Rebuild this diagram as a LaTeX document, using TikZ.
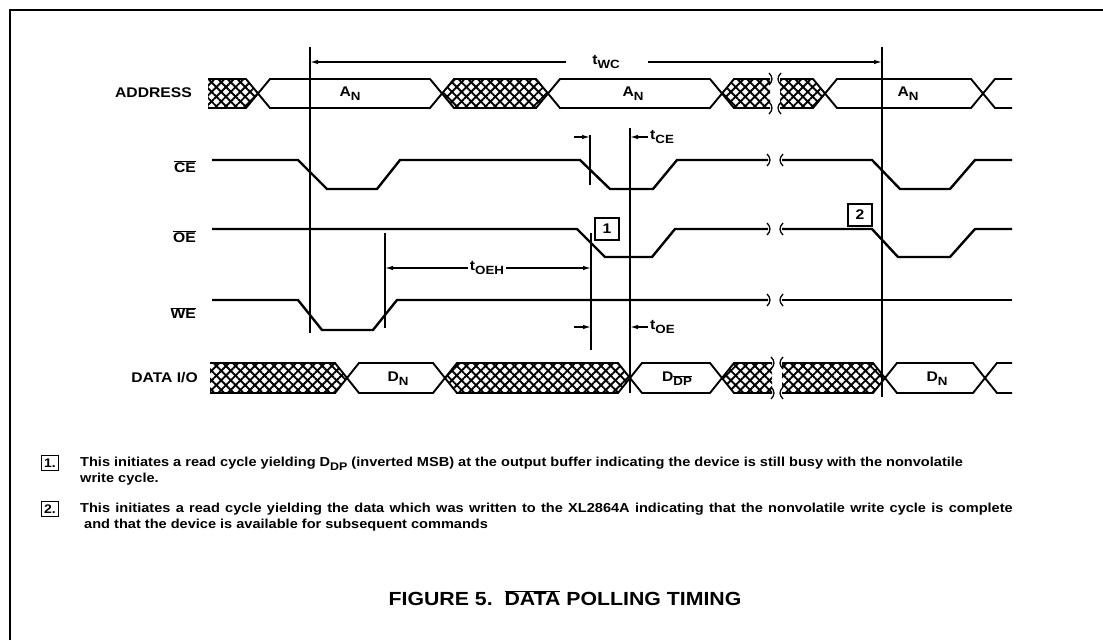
\documentclass[tikz,border=0pt]{standalone}
\usepackage{fontspec}
\setmainfont{Liberation Sans}[FakeStretch=1.12]
\usetikzlibrary{arrows.meta,patterns.meta,positioning,calc}

% lowered subscript and overbar used in the signal names
\newcommand{\lsub}[1]{\raisebox{-0.5ex}{\scalebox{0.85}{#1}}}
\newcommand{\ovl}[1]{$\overline{\mbox{#1}}$}
% break marks on a line, left end x, right end x, height y
\newcommand{\brk}[3]{%
  \draw[line width=1.3pt] ({#1-1},{#3-6}) .. controls ({#1+3},{#3-2}) and ({#1+3},{#3+2}) .. ({#1-1},{#3+6});
  \draw[line width=1.3pt] ({#2+1},{#3-6}) .. controls ({#2-3},{#3-2}) and ({#2-3},{#3+2}) .. ({#2+1},{#3+6});}
% one bus value, from crossing xl to crossing xr
\newcommand{\busseg}[5]{%
  \path[#1] (#2,{(#4+#5)/2}) -- ({#2+12},#4) -- ({#3-12},#4) -- (#3,{(#4+#5)/2}) -- ({#3-12},#5) -- ({#2+12},#5) -- cycle;}

\tikzset{
  sig/.style={line width=2.4pt},
  busline/.style={draw,line width=1.9pt},
  hatch/.style={preaction={pattern={Lines[angle=45,distance=6.8pt,line width=1.9pt]}},
                pattern={Lines[angle=-45,distance=6.8pt,line width=1.9pt]}},
  refline/.style={line width=1.3pt},
  dim/.style={line width=1.3pt,-{Latex[length=8pt,width=4.5pt]}},
  lbl/.style={anchor=east,inner sep=0pt,font=\fontsize{14}{16}\selectfont\bfseries},
  tname/.style={inner sep=2pt,font=\fontsize{14}{16}\selectfont\bfseries},
  numbox/.style={draw,line width=1.4pt,minimum width=24pt,minimum height=22pt,inner sep=0pt,font=\fontsize{14}{16}\selectfont\bfseries},
  notebox/.style={draw,line width=0.9pt,minimum width=17pt,minimum height=15pt,inner sep=1pt,font=\fontsize{12.5}{14}\selectfont\bfseries},
  notetext/.style={anchor=north west,inner sep=0pt,align=left,font=\fontsize{13}{16}\selectfont\bfseries}
}

\begin{document}
\begin{tikzpicture}[x=1pt,y=-1pt]
\useasboundingbox (0,0) rectangle (1103,640);

% frame
\draw[line width=2.5pt] (10,640) -- (10,10) -- (1103,10);

% signal names
\node[lbl] (addr) at (192,93) {ADDRESS};
\node[lbl] (ce) at (196,167) {\ovl{CE}};
\node[lbl] (oe) at (196,237) {\ovl{OE}};
\node[lbl] (we) at (196,313) {\ovl{WE}};
\node[lbl] (dio) at (198,378) {DATA I/O};

% address bus
\path[hatch] (208,79) -- (246,79) -- (258,93.5) -- (246,108) -- (208,108) -- cycle;
\draw[line width=1.9pt] (208,79) -- (246,79) -- (258,93.5) -- (246,108) -- (208,108);
\busseg{busline}{258}{442}{79}{108}
\busseg{busline,hatch}{442}{548}{79}{108}
\busseg{busline}{548}{722}{79}{108}
\path[hatch] (722,93.5) -- (734,79) -- (770,79) -- (770,108) -- (734,108) -- cycle;
\draw[line width=1.9pt] (770,79) -- (734,79) -- (722,93.5) -- (734,108) -- (770,108);
\path[hatch] (780,79) -- (813,79) -- (825,93.5) -- (813,108) -- (780,108) -- cycle;
\draw[line width=1.9pt] (780,79) -- (813,79) -- (825,93.5) -- (813,108) -- (780,108);
\brk{770}{780}{79} \brk{770}{780}{108}
\busseg{busline}{825}{983}{79}{108}
\draw[line width=1.9pt] (1012,79) -- (995,79) -- (983,93.5) -- (995,108) -- (1012,108);
\node[tname] (a1) at (350,94) {A\lsub{N}};
\node[tname] (a2) at (633,94) {A\lsub{N}};
\node[tname] (a3) at (908,94) {A\lsub{N}};

% CE
\draw[sig] (212,160) -- (298,160) -- (327,189) -- (377,189) -- (400,160) -- (580,160)
  -- (610,189) -- (653,189) -- (677,160) -- (768,160);
\draw[sig] (782,160) -- (872,160) -- (900,189) -- (950,189) -- (975,160) -- (1012,160);
\brk{768}{782}{160}

% OE
\draw[sig] (212,229) -- (577,229) -- (605,257) -- (652,257) -- (675,229) -- (768,229);
\draw[sig] (782,229) -- (872,229) -- (898,257) -- (950,257) -- (975,229) -- (1012,229);
\brk{768}{782}{229}
\node[numbox] (m1) at (607,229) {1};
\node[numbox] (m2) at (860,215) {2};

% WE
\draw[sig] (212,300) -- (298,300) -- (322,330) -- (373,330) -- (397,300) -- (768,300);
\draw[sig] (782,300) -- (1012,300);
\brk{768}{782}{300}

% data bus
\path[hatch] (210,363) -- (335,363) -- (347,378) -- (335,393) -- (210,393) -- cycle;
\draw[line width=1.9pt] (210,363) -- (335,363) -- (347,378) -- (335,393) -- (210,393);
\busseg{busline}{347}{445}{363}{393}
\busseg{busline,hatch}{445}{630}{363}{393}
\busseg{busline}{630}{722}{363}{393}
\path[hatch] (722,378) -- (734,363) -- (772,363) -- (772,393) -- (734,393) -- cycle;
\draw[line width=1.9pt] (772,363) -- (734,363) -- (722,378) -- (734,393) -- (772,393);
\path[hatch] (782,363) -- (873,363) -- (885,378) -- (873,393) -- (782,393) -- cycle;
\draw[line width=1.9pt] (782,363) -- (873,363) -- (885,378) -- (873,393) -- (782,393);
\brk{772}{782}{363} \brk{772}{782}{393}
\busseg{busline}{885}{985}{363}{393}
\draw[line width=1.9pt] (1012,363) -- (997,363) -- (985,378) -- (997,393) -- (1012,393);
\node[tname] (d1) at (398,379) {D\lsub{N}};
\node[tname] (d2) at (677,379) {D\lsub{\ovl{DP}}};
\node[tname] (d3) at (937,379) {D\lsub{N}};

% reference lines
\coordinate (v1t) at (310,47);  \coordinate (v1b) at (310,333);
\coordinate (v2t) at (385,233); \coordinate (v2b) at (385,328);
\coordinate (v3t) at (590,135); \coordinate (v3b) at (590,185);
\coordinate (v4t) at (591,233); \coordinate (v4b) at (591,350);
\coordinate (v5t) at (630,128); \coordinate (v5b) at (630,393);
\coordinate (v6t) at (882,47);  \coordinate (v6b) at (882,397);
\foreach \v in {v1,v2,v3,v4,v5,v6}
  \draw[refline] (\v t) -- (\v b);

% timing parameters
\node[tname] (twc) at (606,62) {t\lsub{WC}};
\draw[dim] ([xshift=-24pt]twc.west) -- (twc.west -| v1t);
\draw[dim] ([xshift=26pt]twc.east) -- (twc.east -| v6t);
\node[tname,anchor=west] (tce) at (648,137) {t\lsub{CE}};
\draw[dim] ($(v3t |- tce)+(-16,0)$) -- (v3t |- tce);
\draw[dim] (tce.west) -- (v5t |- tce);
\node[tname] (toeh) at (487,268) {t\lsub{OEH}};
\draw[dim] (toeh.west) -- (toeh.west -| v2t);
\draw[dim] (toeh.east) -- (toeh.east -| v4t);
\node[tname,anchor=west] (toe) at (648,327) {t\lsub{OE}};
\draw[dim] ($(v4t |- toe)+(-17,0)$) -- (v4t |- toe);
\draw[dim] (toe.west) -- (v5t |- toe);

% notes
\node[notebox] (n1box) at (50,463) {1.};
\node[notetext] (n1) at (80,457) {This initiates a read cycle yielding D\lsub{DP} (inverted MSB) at the output buffer indicating the device is still busy with the nonvolatile\\write cycle.};
\node[notebox] (n2box) at (50,509) {2.};
\node[notetext] (n2) at (80,503) {\spaceskip=5.3pt This initiates a read cycle yielding the data which was written to the XL2864A indicating that the nonvolatile write cycle is complete\\\ and that the device is available for subsequent commands};

% caption
\node[font=\fontsize{19}{22}\selectfont\bfseries] (title) at (565,598) {FIGURE 5.\ \ \ovl{DATA} POLLING TIMING};
\end{tikzpicture}
\end{document}
